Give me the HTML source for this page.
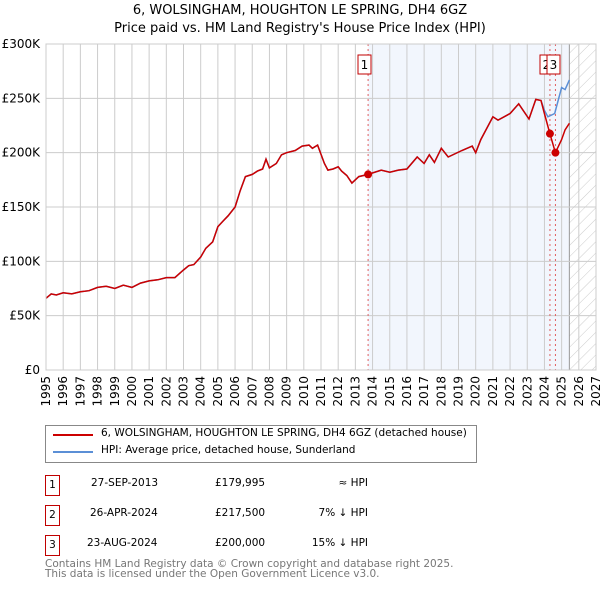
<!DOCTYPE html>
<html><head><meta charset="utf-8"><style>
body{margin:0;background:#fff;font-family:"DejaVu Sans","Liberation Sans",sans-serif;}
#wrap{position:relative;width:600px;height:590px;overflow:hidden;}
.t{position:absolute;font-size:12px;color:#000;white-space:nowrap;}
.b{position:absolute;width:13px;height:19px;border:1px solid #c00000;font-size:10.5px;line-height:19px;text-align:center;}
</style></head><body>
<div id="wrap">
<svg id="chart" width="600" height="590" style="position:absolute;left:0;top:0"></svg>
</div>
<script>
const hpiYears=[1995.0,1995.3,1995.6,1996.0,1996.5,1997.0,1997.5,1998.0,1998.5,1999.0,1999.5,2000.0,2000.5,2001.0,2001.5,2002.0,2002.5,2003.0,2003.3,2003.6,2004.0,2004.3,2004.7,2005.0,2005.3,2005.6,2006.0,2006.3,2006.6,2007.0,2007.3,2007.6,2007.8,2008.0,2008.4,2008.7,2009.0,2009.5,2009.9,2010.3,2010.5,2010.8,2011.2,2011.4,2011.7,2012.0,2012.2,2012.5,2012.8,2013.2,2013.74,2014.5,2015.0,2015.5,2016.0,2016.6,2017.0,2017.3,2017.6,2018.0,2018.4,2019.2,2019.8,2020.0,2020.3,2021.0,2021.3,2022.0,2022.5,2023.1,2023.5,2023.8,2024.0,2024.2,2024.6,2025.0,2025.2,2025.45];
const hpiVals=[66,70,69,71,70,72,73,76,77,75,78,76,80,82,83,85,85,92,96,97,104,112,118,132,137,142,150,165,178,180,183,185,194,186,190,198,200,202,206,207,204,207,190,184,185,187,183,179,172,178,180,184,182,184,185,196,190,198,191,204,196,202,206,200,212,233,230,236,245,231,249,248,239,233,236,260,258,267];
const priceYears=[1995.0,1995.3,1995.6,1996.0,1996.5,1997.0,1997.5,1998.0,1998.5,1999.0,1999.5,2000.0,2000.5,2001.0,2001.5,2002.0,2002.5,2003.0,2003.3,2003.6,2004.0,2004.3,2004.7,2005.0,2005.3,2005.6,2006.0,2006.3,2006.6,2007.0,2007.3,2007.6,2007.8,2008.0,2008.4,2008.7,2009.0,2009.5,2009.9,2010.3,2010.5,2010.8,2011.2,2011.4,2011.7,2012.0,2012.2,2012.5,2012.8,2013.2,2013.74,2014.5,2015.0,2015.5,2016.0,2016.6,2017.0,2017.3,2017.6,2018.0,2018.4,2019.2,2019.8,2020.0,2020.3,2021.0,2021.3,2022.0,2022.5,2023.1,2023.5,2023.8,2024.0,2024.32,2024.64,2025.0,2025.2,2025.45];
const priceVals=[66,70,69,71,70,72,73,76,77,75,78,76,80,82,83,85,85,92,96,97,104,112,118,132,137,142,150,165,178,180,183,185,194,186,190,198,200,202,206,207,204,207,190,184,185,187,183,179,172,178,180,184,182,184,185,196,190,198,191,204,196,202,206,200,212,233,230,236,245,231,249,248,236,217.5,200,212,221,227];
const saleLabels=["1","2","3"];
const saleYears=[2013.74,2024.32,2024.64];
const saleVals=[179.995,217.5,200];
const yTicks=[0,50,100,150,200,250,300];
const yTickLabels=["£0","£50K","£100K","£150K","£200K","£250K","£300K"];
const xTicks=[1995,1996,1997,1998,1999,2000,2001,2002,2003,2004,2005,2006,2007,2008,2009,2010,2011,2012,2013,2014,2015,2016,2017,2018,2019,2020,2021,2022,2023,2024,2025,2026,2027];

const X0=46,X1=596,Y0=370,Y1=44;
const FF='DejaVu Sans, Liberation Sans, sans-serif';
const xs=y=>X0+(y-1995)/(2027-1995)*(X1-X0);
const ys=v=>Y0-v/300*(Y0-Y1);
const NS="http://www.w3.org/2000/svg";
const svg=document.getElementById('chart');
function mk(tag,attrs,parent){const e=document.createElementNS(NS,tag);for(const k in attrs)e.setAttribute(k,attrs[k]);(parent||svg).appendChild(e);return e;}

const defs=mk('defs',{});
const pat=mk('pattern',{id:'hatch',width:8,height:8,patternUnits:'userSpaceOnUse',patternTransform:'rotate(45)'},defs);
mk('line',{x1:0,y1:0,x2:0,y2:8,stroke:'#ccc','stroke-width':1},pat);

const sh=mk('rect',{x:xs(2013.74),y:Y1,width:xs(2025.45)-xs(2013.74),height:Y0-Y1,fill:'#eef3fc',opacity:0.75});


const hr=mk('rect',{x:xs(2025.45),y:Y1,width:X1-xs(2025.45),height:Y0-Y1,fill:'url(#hatch)'});


mk('line',{x1:xs(2025.45),y1:Y1,x2:xs(2025.45),y2:Y0,stroke:'#999','stroke-width':1});

xTicks.forEach(t=>{const l=mk('line',{x1:xs(t),y1:Y1,x2:xs(t),y2:Y0,stroke:'#ccc','stroke-width':1});


const tx=mk('text',{x:0,y:0,transform:`translate(${xs(t)+4},${Y0+6}) rotate(-90)`,'text-anchor':'end','font-size':12,'font-family':FF,fill:'#000'});tx.textContent=t;

});
yTicks.forEach((t,i)=>{const l=mk('line',{x1:X0,y1:ys(t),x2:X1,y2:ys(t),stroke:'#ccc','stroke-width':1});


const tx=mk('text',{x:X0-6,y:ys(t)+4,'text-anchor':'end','font-size':12,'font-family':FF,fill:'#000'});tx.textContent=yTickLabels[i];

});

saleYears.forEach(y=>{const l=mk('line',{x1:xs(y),y1:Y1,x2:xs(y),y2:Y0,stroke:'#e06060','stroke-width':1,'stroke-dasharray':'2,3'});

});

function path(xa,va){return xa.map((x,i)=>(i?'L':'M')+xs(x).toFixed(1)+','+ys(va[i]).toFixed(1)).join(' ');}
const hp=mk('path',{d:path(hpiYears,hpiVals),fill:'none',stroke:'#5b8fd6','stroke-width':1.5});


const pp=mk('path',{d:path(priceYears,priceVals),fill:'none',stroke:'#cc0000','stroke-width':1.5});



saleYears.forEach((y,i)=>{const c=mk('circle',{cx:xs(y),cy:ys(saleVals[i]),r:4,fill:'#cc0000'});

});
const boxX=[358,540,547];
saleLabels.forEach((s,i)=>{const g=mk('g',{});


mk('rect',{x:boxX[i],y:55,width:13,height:19,fill:'#fff',stroke:'#c00000','stroke-width':1},g);
const t=mk('text',{x:boxX[i]+6.5,y:69,'text-anchor':'middle','font-size':12,'font-family':FF},g);t.textContent=s;});
mk('rect',{x:X0,y:Y1,width:X1-X0,height:Y0-Y1,fill:'none',stroke:'#ccc','stroke-width':1});
</script>
<div class="t" style="left:0;width:600px;text-align:center;top:3px;font-size:13px">6, WOLSINGHAM, HOUGHTON LE SPRING, DH4 6GZ</div>
<div class="t" style="left:0;width:600px;text-align:center;top:21px;font-size:13px">Price paid vs. HM Land Registry's House Price Index (HPI)</div>
<div style="position:absolute;left:45px;top:425px;width:430px;height:36px;border:1px solid #888;">
 <div style="position:absolute;left:7px;top:8px;width:40px;height:2px;background:#cc0000"></div>
 <div class="t" style="left:55px;top:1px;font-size:10.5px">6, WOLSINGHAM, HOUGHTON LE SPRING, DH4 6GZ (detached house)</div>
 <div style="position:absolute;left:7px;top:25px;width:40px;height:2px;background:#5b8fd6"></div>
 <div class="t" style="left:55px;top:18px;font-size:10.5px">HPI: Average price, detached house, Sunderland</div>
</div>
<div>
 <div class="b" style="left:45px;top:475px">1</div>
 <div class="t" style="left:91px;top:477px;font-size:10.5px">27-SEP-2013</div>
 <div class="t" style="left:215px;top:477px;font-size:10.5px">£179,995</div>
 <div class="t" style="left:270px;width:98px;text-align:right;top:477px;font-size:10.5px">≈ HPI</div>
 <div class="b" style="left:45px;top:505px">2</div>
 <div class="t" style="left:90px;top:507px;font-size:10.5px">26-APR-2024</div>
 <div class="t" style="left:215px;top:507px;font-size:10.5px">£217,500</div>
 <div class="t" style="left:270px;width:98px;text-align:right;top:507px;font-size:10.5px">7% ↓ HPI</div>
 <div class="b" style="left:45px;top:535px">3</div>
 <div class="t" style="left:87px;top:537px;font-size:10.5px">23-AUG-2024</div>
 <div class="t" style="left:215px;top:537px;font-size:10.5px">£200,000</div>
 <div class="t" style="left:270px;width:98px;text-align:right;top:537px;font-size:10.5px">15% ↓ HPI</div>
</div>
<div class="t" style="left:45px;top:559px;font-size:10.5px;color:#777;line-height:10px">Contains HM Land Registry data © Crown copyright and database right 2025.<br>This data is licensed under the Open Government Licence v3.0.</div>
</body></html>
